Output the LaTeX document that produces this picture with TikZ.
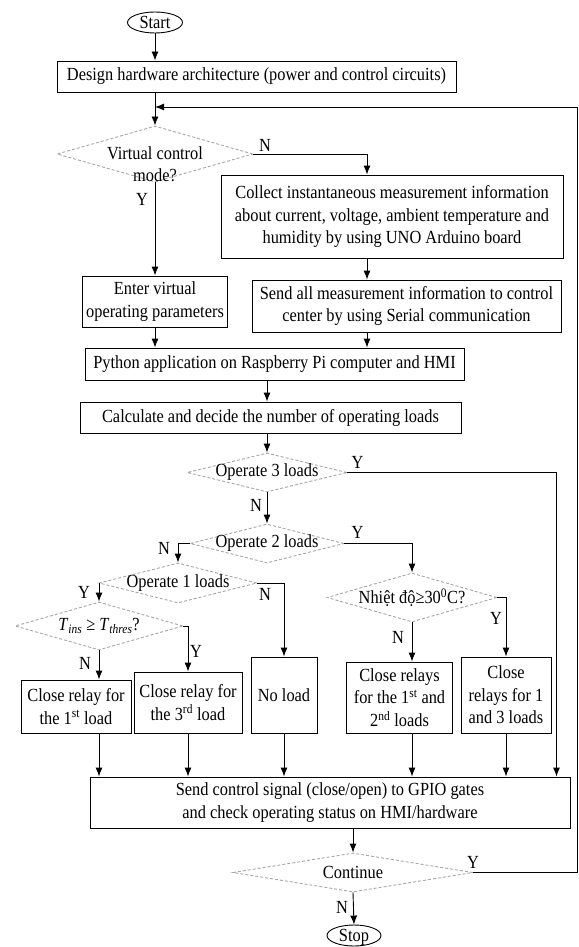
\documentclass[tikz,border=0pt]{standalone}
\usepackage{fontspec}
\setmainfont{Liberation Serif}[FakeStretch=0.885]
\usetikzlibrary{arrows.meta,positioning,shapes.geometric}

\begin{document}
\begin{tikzpicture}[x=1pt, y=-1pt, font=\fontsize{18.5}{22.5}\selectfont]

\tikzset{
  block/.style={
    rectangle, draw, line width=0.9pt,
    align=center, inner sep=2pt
  },
  term/.style={
    ellipse, draw, line width=0.9pt,
    inner sep=0pt, text height=12pt, text depth=0pt
  },
  decision/.style={
    diamond, draw=gray!70, densely dashed,
    line width=0.9pt, inner sep=0pt
  },
  arrow/.style={-{Latex[length=9pt,width=7pt]}, line width=0.9pt},
  yn/.style={inner sep=0pt}
}

\useasboundingbox (0,0) rectangle (578,947);

% ==========================
% Top part
% ==========================
\node[term, minimum width=55pt, minimum height=21pt] (start) at (155,22.5) {Start};
\node[block, minimum width=399pt, minimum height=31pt] (hw) at (256.5,76.5)
  {Design hardware architecture (power and control circuits)};
\node[decision, minimum width=196pt, minimum height=56pt,
  label={[align=center, yshift=-10pt]center:Virtual control\\mode?}] (vcm) at (155,154) {};

\coordinate (xr) at (367,0);
\node[block, minimum width=342pt, minimum height=83pt] (collect) at (392,216.5)
  {Collect instantaneous measurement information\\about current, voltage, ambient temperature and\\humidity by using UNO Arduino board};
\node[block, minimum width=145pt, minimum height=51pt] (enter) at (155,301.5)
  {Enter virtual\\operating parameters};
\node[block, minimum width=309pt, minimum height=52pt] (send) at (406.5,306)
  {Send all measurement information to control\\center by using Serial communication};
\node[block, minimum width=379pt, minimum height=32pt] (py) at (274.5,364)
  {Python application on Raspberry Pi computer and HMI};
\node[block, minimum width=381pt, minimum height=31pt] (calc) at (270.5,417.5)
  {Calculate and decide the number of operating loads};

% ==========================
% Decisions on the loads
% ==========================
\node[decision, minimum width=160pt, minimum height=39pt, label=center:Operate 3 loads] (op3) at (267,472.5) {};
\node[decision, minimum width=154pt, minimum height=39pt, label=center:Operate 2 loads] (op2) at (267,543.5) {};
\node[decision, minimum width=158pt, minimum height=40pt, label=center:Operate 1 loads] (op1) at (178,583) {};
\node[decision, minimum width=168pt, minimum height=48pt,
  label={center:\textit{T}\textsubscript{\textit{ins}} ≥ \textit{T}\textsubscript{\textit{thres}}?}] (tdia) at (99,626) {};
\node[decision, minimum width=170pt, minimum height=49pt,
  label={center:Nhiệt độ≥30\textsuperscript{0}C?}] (temp) at (412,597.5) {};

\node[block, minimum width=110pt, minimum height=53pt] (r1) at (76,706.5) {Close relay for\\the 1\textsuperscript{st} load};
\node[block, minimum width=108pt, minimum height=61pt] (r3) at (188,702.5) {Close relay for\\the 3\textsuperscript{rd} load};
\node[block, minimum width=66pt, minimum height=76pt] (noload) at (284,695) {No load};
\node[block, minimum width=106pt, minimum height=71pt] (r12) at (399.5,697.5) {Close relays\\for the 1\textsuperscript{st} and\\2\textsuperscript{nd} loads};
\node[block, minimum width=90pt, minimum height=76pt] (r13) at (506,695) {Close\\relays for 1\\and 3 loads};

% ==========================
% Bottom part
% ==========================
\node[block, minimum width=480pt, minimum height=51pt] (gpio) at (330,802.5)
  {Send control signal (close/open) to GPIO gates\\and check operating status on HMI/hardware};
\node[decision, minimum width=240pt, minimum height=39pt, label=center:Continue] (cont) at (353,872.5) {};
\node[term, minimum width=54pt, minimum height=21pt] (stop) at (354,935.5) {Stop};

\coordinate (xe) at (556.5,0);
\coordinate (back) at (577,107);

% Y/N labels
\node[yn] (n1) at (265,145) {N};
\node[yn] (y1) at (142,199) {Y};
\node[yn] (y3) at (357.5,462) {Y};
\node[yn] (n3) at (256,505) {N};
\node[yn] (y2) at (357.5,532) {Y};
\node[yn] (n2) at (164,548) {N};
\node[yn] (n4) at (265,594) {N};
\node[yn] (y4) at (84,592) {Y};
\node[yn] (n5) at (85,663) {N};
\node[yn] (y5) at (196,651) {Y};
\node[yn] (n6) at (398,637) {N};
\node[yn] (y6) at (496,618) {Y};
\node[yn] (y7) at (473,862) {Y};
\node[yn] (n7) at (342,907) {N};

% Connectors
\draw[arrow] (start.south) -- (start.south |- hw.north);
\draw[arrow] (hw.south -| vcm.north) -- (vcm.north);
\draw[arrow] (vcm.east) -| (xr |- collect.north);
\draw[arrow] (vcm.south) -- (enter.north);
\draw[arrow] (collect.south -| xr) -- (send.north -| xr);
\draw[arrow] (enter.south) -- (enter.south |- py.north);
\draw[arrow] (send.south -| xr) -- (py.north -| xr);
\draw[arrow] (py.south -| op3.north) -- (calc.north -| op3.north);
\draw[arrow] (calc.south -| op3.north) -- (op3.north);

\draw[arrow] (op3.east) -| (xe |- gpio.north);
\draw[arrow] (op3.south) -- (op2.north);
\draw[arrow] (op2.east) -| (temp.north);
\draw[arrow] (op2.west) -| (op1.north);
\draw[arrow] (op1.east) -| (noload.north);
\draw[arrow] (op1.west) -| (tdia.north);
\draw[arrow] (tdia.south) -- (tdia.south |- r1.north);
\draw[arrow] (tdia.east) -| (r3.north);
\draw[arrow] (temp.south) -- (temp.south |- r12.north);
\draw[arrow] (temp.east) -| (r13.north);

\draw[arrow] (r1.south -| tdia.south) -- (gpio.north -| tdia.south);
\draw[arrow] (r3.south) -- (r3.south |- gpio.north);
\draw[arrow] (noload.south) -- (noload.south |- gpio.north);
\draw[arrow] (r12.south -| temp.south) -- (gpio.north -| temp.south);
\draw[arrow] (r13.south) -- (r13.south |- gpio.north);

\draw[arrow] (gpio.south -| cont.north) -- (cont.north);
\draw[arrow] (cont.south) -- (stop.north);
\draw[arrow] (cont.east) -| (back) -- (back -| vcm.north);

\end{tikzpicture}
\end{document}
